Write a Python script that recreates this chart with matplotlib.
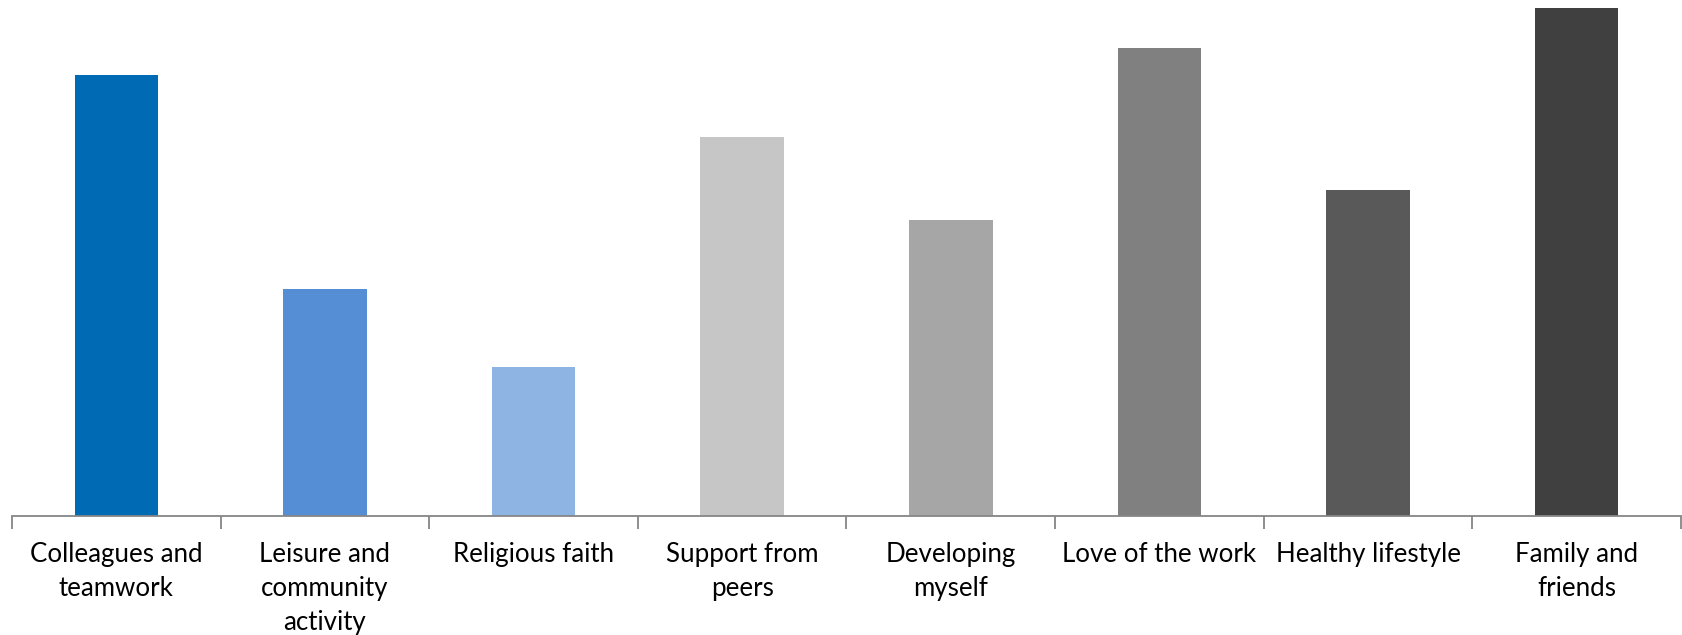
import matplotlib
matplotlib.use("Agg")
import matplotlib.pyplot as plt
import numpy as np

categories = ["Colleagues and\nteamwork", "Leisure and\ncommunity\nactivity", "Religious faith",
              "Support from\npeers", "Developing\nmyself", "Love of the work",
              "Healthy lifestyle", "Family and\nfriends"]
values = [441, 227, 149, 379, 296, 468, 326, 508]
colors = ["#006AB4", "#558ED5", "#8EB4E3", "#C6C6C6", "#A6A6A6", "#808080", "#595959", "#404040"]

W, H = 1683, 635
fig = plt.figure(figsize=(W / 100, H / 100), dpi=100)
ax = fig.add_axes([12 / W, (H - 516) / H, (1681 - 12) / W, 516 / H])

x = np.arange(len(categories))
ax.bar(x, values, width=0.40, color=colors)
ax.set_xlim(-0.5, len(categories) - 0.5)
ax.set_ylim(0, 516)

for s in ["top", "right", "left"]:
    ax.spines[s].set_visible(False)
ax.spines["bottom"].set_color("#868686")
ax.spines["bottom"].set_linewidth(1.3)
ax.set_yticks([])

ax.set_xticks(x)
ax.set_xticklabels(categories, fontsize=18.6, family=["Lato", "DejaVu Sans"], linespacing=1.46,
                   va="top")
ax.tick_params(axis="x", which="major", length=0, pad=18.5)
ax.set_xticks(np.arange(-0.5, len(categories)), minor=True)
ax.tick_params(axis="x", which="minor", length=9, width=1.3, color="#868686", direction="out")

fig.savefig("out.png", dpi=100)
